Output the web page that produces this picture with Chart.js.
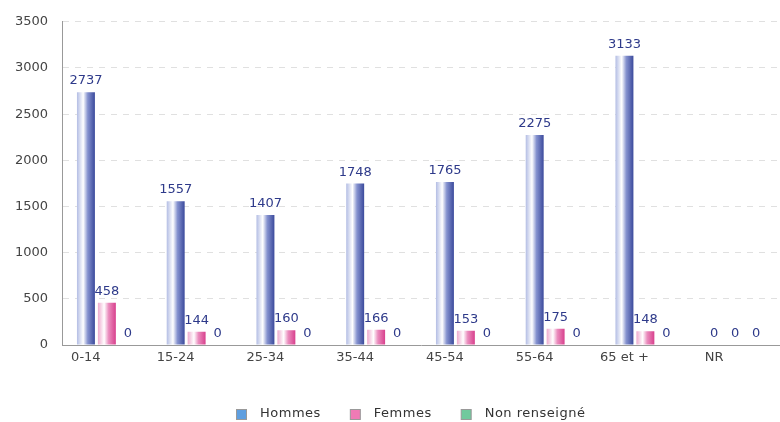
<!DOCTYPE html>
<html><head><meta charset="utf-8">
<script src="https://cdn.jsdelivr.net/npm/chart.js@4.4.1/dist/chart.umd.min.js"></script>
<style>html,body{margin:0;padding:0;background:#fff}#wrap{width:780px;height:422px}</style>
</head><body><div id="wrap"><canvas id="c" width="780" height="422"></canvas></div>
<script>
const categories = ["0-14","15-24","25-34","35-44","45-54","55-64","65 et +","NR"];
const hommes = [2737,1557,1407,1748,1765,2275,3133,0];
const femmes = [458,144,160,166,153,175,148,0];
const nonRenseigne = [0,0,0,0,0,0,0,0];
const seriesNames = ['Hommes','Femmes','Non renseigné'];
const yTicks = [0,500,1000,1500,2000,2500,3000,3500];

const CAT_PCT = 0.7, BAR_PCT = 0.857;
const legendColors = ['#5f9fe0','#f07ab5','#70c99d'];
const gradStops = [
  ['#b3bde4','#ffffff','#8592cf','#3b4a9c'],
  ['#eeaacd','#ffffff','#ea8cbd','#d8408d'],
  ['#a8dcc3','#ffffff','#8fcfb0','#3f9a73']
];

function barGradient(context){
  const chart = context.chart;
  const xs = chart.scales.x;
  if (!xs || context.dataIndex === undefined) return gradStops[context.datasetIndex][3];
  const n = chart.data.datasets.length;
  const cw = xs.width / chart.data.labels.length;
  const group = cw * CAT_PCT, pitch = group / n, bw = pitch * BAR_PCT;
  const cx = xs.getPixelForValue(context.dataIndex) - group/2 + pitch*(context.datasetIndex + 0.5);
  const l = cx - bw/2, r = cx + bw/2;
  if (!isFinite(l)) return gradStops[context.datasetIndex][3];
  const g = chart.ctx.createLinearGradient(l,0,r,0);
  const st = gradStops[context.datasetIndex];
  g.addColorStop(0, st[0]);
  g.addColorStop(0.35, st[1]);
  g.addColorStop(0.6, st[2]);
  g.addColorStop(1, st[3]);
  return g;
}

const labelPlugin = {
  id: 'vlabels',
  afterDatasetsDraw(chart){
    const ctx = chart.ctx;
    ctx.save();
    ctx.font = '13px "DejaVu Sans"';
    ctx.fillStyle = '#2e3a8a';
    ctx.textAlign = 'center';
    ctx.textBaseline = 'alphabetic';
    chart.data.datasets.forEach((ds,i)=>{
      const meta = chart.getDatasetMeta(i);
      meta.data.forEach((el,j)=>{
        ctx.fillText(String(ds.data[j]), el.x, el.y - 8);
      });
    });
    ctx.restore();
  }
};

const legendPlugin = {
  id: 'customLegend',
  afterDraw(chart){
    const ctx = chart.ctx;
    ctx.save();
    ctx.font = '13px "DejaVu Sans"';
    try { ctx.letterSpacing = '0.5px'; } catch(e) {}
    ctx.textBaseline = 'middle';
    ctx.textAlign = 'left';
    let x = 236; const cy = 414;
    chart.data.datasets.forEach((ds,i)=>{
      ctx.fillStyle = ds.legendColor;
      ctx.fillRect(x+0.5, cy-5+0.5, 10, 10);
      ctx.strokeStyle = '#999'; ctx.lineWidth = 1;
      ctx.strokeRect(x+0.5, cy-5+0.5, 10, 10);
      x += 24;
      ctx.fillStyle = '#333';
      ctx.fillText(ds.label, x, cy);
      x += ctx.measureText(ds.label).width + 29;
    });
    ctx.restore();
  }
};

new Chart(document.getElementById('c'), {
  type: 'bar',
  data: {
    labels: categories,
    datasets: [
      {label:seriesNames[0], data:hommes, legendColor:legendColors[0], backgroundColor:barGradient},
      {label:seriesNames[1], data:femmes, legendColor:legendColors[1], backgroundColor:barGradient},
      {label:seriesNames[2], data:nonRenseigne, legendColor:legendColors[2], backgroundColor:barGradient}
    ]
  },
  options: {
    responsive:false,
    animation:false,
    categoryPercentage:CAT_PCT,
    barPercentage:BAR_PCT,
    layout:{padding:{left:0,right:-4,top:11,bottom:40}},
    plugins:{
      tooltip:{enabled:false},
      legend:{display:false}
    },
    scales:{
      x:{
        grid:{display:false, drawTicks:false},
        border:{color:'#999', width:1},
        ticks:{font:{family:'"DejaVu Sans"',size:13}, color:'#444', labelOffset:-21, padding:5, maxRotation:0, autoSkip:false},
        afterFit(s){ s.height = 37; }
      },
      y:{
        min:0,max:3500,
        afterBuildTicks(s){ s.ticks = yTicks.map(v=>({value:v})); },
        grid:{color:'#e0e0e0', drawTicks:false},
        border:{color:'#999', width:1, dash:[6,6]},
        ticks:{font:{family:'"DejaVu Sans"',size:13}, color:'#444', padding:14, callback:(v)=>String(v)},
        afterFit(s){ s.width = 62; }
      }
    }
  },
  plugins:[labelPlugin, legendPlugin]
});
</script></body></html>
